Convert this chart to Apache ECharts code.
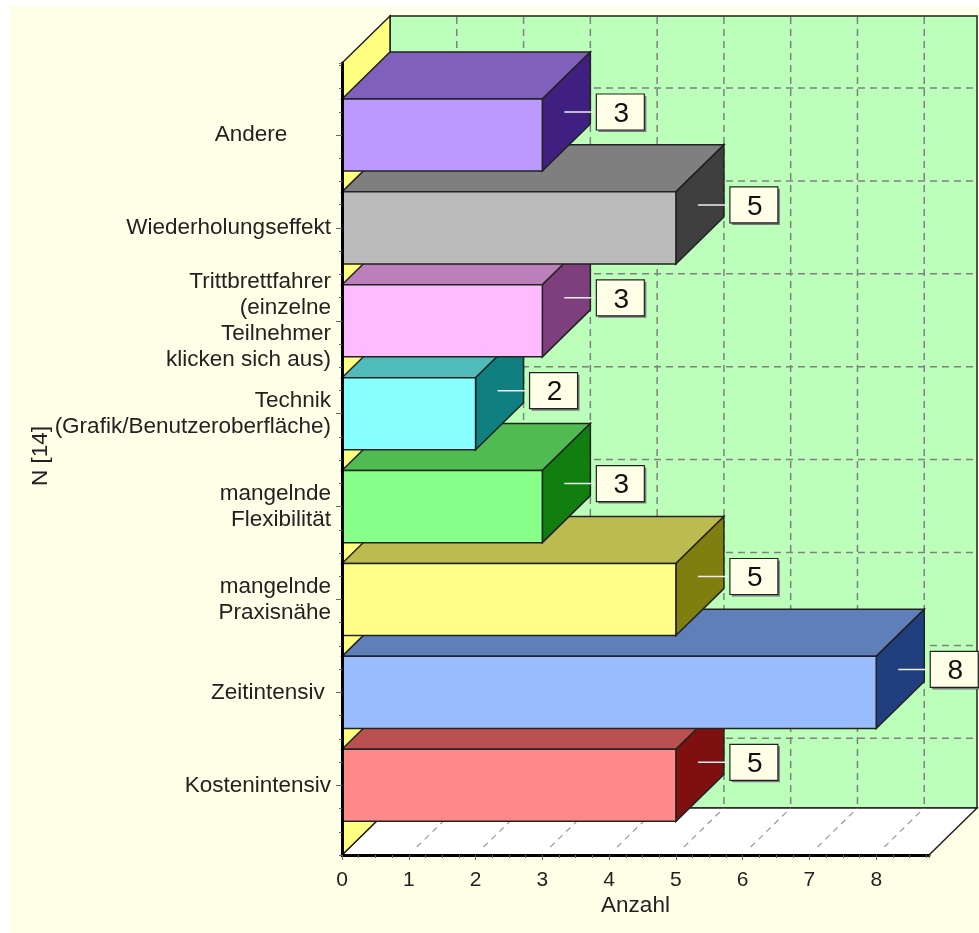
<!DOCTYPE html>
<html>
<head>
<meta charset="utf-8">
<style>html,body{margin:0;padding:0;background:#fff}#chart{width:979px;height:933px}</style>
<script src="https://cdn.jsdelivr.net/npm/echarts@6/dist/echarts.min.js"></script>
</head>
<body>
<div id="chart"></div>
<script>
// Bars run bottom to top, so each later bar overlaps the top face of the one below it.
const categories = [
  'Kostenintensiv',
  'Zeitintensiv\u00a0',
  'mangelnde\nPraxisnähe',
  'mangelnde\nFlexibilität',
  'Technik\n(Grafik/Benutzeroberfläche)',
  'Trittbrettfahrer\n(einzelne\nTeilnehmer\nklicken sich aus)',
  'Wiederholungseffekt',
  'Andere\u00a0\u00a0\u00a0\u00a0\u00a0\u00a0\u00a0'
];
const counts = [5, 8, 5, 3, 2, 3, 5, 3];
const xTicks = [0, 1, 2, 3, 4, 5, 6, 7, 8];

const frontColors = ['#FF8888', '#99BBFF', '#FFFF88', '#88FF88', '#88FFFF', '#FFBBFF', '#BBBBBB', '#BB99FF'];
const topColors   = ['#BB5050', '#5F7FBB', '#BBBB50', '#50BB50', '#50BBBB', '#BB7FBB', '#7F7F7F', '#7F60BB'];
const sideColors  = ['#7F1010', '#1F3F7F', '#7F7F10', '#107F10', '#107F7F', '#7F3F7F', '#3F3F3F', '#3F1F7F'];

// Extrusion of the 3D box, in pixels.
const DX = 48, DY = -47;
const BAR_SHARE = 0.776;
const EDGE = '#222';
const FONT = '"Liberation Sans", Arial, sans-serif';
const X_MAX = 8.79, Y_MIN = 0.25, Y_MAX = 8.775;

function poly(points, fill, extra) {
  return Object.assign({
    type: 'polygon',
    shape: { points: points },
    style: { fill: fill, stroke: EDGE, lineWidth: 1.5, lineJoin: 'miter' }
  }, extra || {});
}
function dashed(x1, y1, x2, y2, dash, color, width) {
  return {
    type: 'line',
    shape: { x1: x1, y1: y1, x2: x2, y2: y2 },
    style: { stroke: color || '#808080', lineWidth: width || 1.5, lineDash: dash }
  };
}

// Back wall, side wall, floor and their dashed grid.
function renderRoom(params, api) {
  const o = api.coord([0, Y_MIN]);
  const tl = api.coord([0, Y_MAX]);
  const br = api.coord([X_MAX, Y_MIN]);
  const kids = [
    poly([[o[0] + DX, tl[1] + DY], [br[0] + DX, tl[1] + DY], [br[0] + DX, o[1] + DY], [o[0] + DX, o[1] + DY]], '#BBFFBB'),
    poly([[o[0], o[1]], [br[0], br[1]], [br[0] + DX, br[1] + DY], [o[0] + DX, o[1] + DY]], '#FFFFFF'),
    poly([[o[0], tl[1]], [o[0] + DX, tl[1] + DY], [o[0] + DX, o[1] + DY], [o[0], o[1]]], '#FFFF80')
  ];
  xTicks.slice(1).forEach(function (t) {
    const p = api.coord([t, Y_MIN]);
    kids.push(dashed(p[0] + DX, tl[1] + DY + 1, p[0] + DX, o[1] + DY, [7, 5]));
    kids.push(dashed(p[0] + 8, p[1] - 8, p[0] + DX, p[1] + DY, [6, 5], '#999', 1.2));
  });
  categories.forEach(function (c, i) {
    const p = api.coord([0, i + 1]);
    kids.push(dashed(p[0] + DX, p[1] + DY, br[0] + DX, p[1] + DY, [7, 5]));
  });
  return { type: 'group', children: kids };
}

// One extruded bar with its leader line and value box.
function renderBar(params, api) {
  const value = api.value(0);
  const i = params.dataIndex;
  const base = api.coord([0, api.value(1)]);
  const end = api.coord([value, api.value(1)]);
  const h = api.size([0, 1])[1] * BAR_SHARE;
  const t = end[1] - h / 2, b = end[1] + h / 2;
  const x0 = base[0], x1 = end[0];
  const lineY = end[1] - 23;
  const boxX = x1 + 54;
  return {
    type: 'group',
    children: [
      poly([[x0, t], [x0 + DX, t + DY], [x1 + DX, t + DY], [x1, t]], topColors[i]),
      poly([[x1, t], [x1 + DX, t + DY], [x1 + DX, b + DY], [x1, b]], sideColors[i]),
      poly([[x0, t], [x1, t], [x1, b], [x0, b]], frontColors[i]),
      { type: 'line', shape: { x1: x1 + 22, y1: lineY, x2: boxX, y2: lineY },
        style: { stroke: '#EEEEEE', lineWidth: 1.5 } },
      { type: 'rect', shape: { x: boxX + 2, y: lineY - 16, width: 48, height: 36 },
        style: { fill: '#7A7A7A' } },
      { type: 'rect', shape: { x: boxX, y: lineY - 18, width: 48, height: 36 },
        style: { fill: '#FFFFE8', stroke: EDGE, lineWidth: 1.2 } },
      { type: 'text', style: { text: String(value), x: boxX + 25, y: lineY + 2,
        align: 'center', verticalAlign: 'middle', fill: '#111',
        font: '28px ' + FONT } }
    ]
  };
}

const axisFont = { color: '#222', fontFamily: FONT, fontSize: 22.5 };
const tickValues = categories.map(function (c, i) { return i + 1; });
const chart = echarts.init(document.getElementById('chart'), null, { renderer: 'canvas' });
chart.setOption({
  animation: false,
  backgroundColor: '#FFFFFF',
  graphic: [{
    type: 'rect', z: -10, silent: true,
    shape: { x: 10, y: 6, width: 969, height: 927 },
    style: { fill: '#FFFFE8' }
  }],
  grid: { left: 342, top: 63, width: 587, height: 792 },
  xAxis: [{
    type: 'value', min: 0, max: X_MAX, interval: 1, z: 10,
    name: 'Anzahl', nameLocation: 'middle', nameGap: 39, nameMoveOverlap: false,
    nameTextStyle: axisFont,
    axisLine: { onZero: false, lineStyle: { color: '#000', width: 3 } },
    axisTick: { show: true, customValues: xTicks, length: 5, lineStyle: { color: '#666', width: 1 } },
    axisLabel: { show: true, customValues: xTicks, margin: 15, ...axisFont, fontSize: 21 },
    splitLine: { show: false }
  }, {
    type: 'value', position: 'bottom', min: 0, max: X_MAX, interval: 0.25, z: 10,
    axisLine: { show: false, onZero: false },
    axisTick: { show: true, length: 3, lineStyle: { color: '#666', width: 1 } },
    axisLabel: { show: false },
    splitLine: { show: false }
  }],
  yAxis: [{
    type: 'value', min: Y_MIN, max: Y_MAX, interval: 0.25, z: 10,
    name: 'N [14]', nameLocation: 'middle', nameGap: 290, nameRotate: 90, nameMoveOverlap: false,
    nameTextStyle: { ...axisFont, padding: [0, 0, 0, 6] },
    axisLine: { onZero: false, lineStyle: { color: '#000', width: 3 } },
    axisTick: { show: true, customValues: tickValues, length: 6, lineStyle: { color: '#666', width: 1 } },
    axisLabel: {
      show: true,
      customValues: tickValues,
      formatter: function (v) { return categories[Math.round(v) - 1]; },
      margin: 11, align: 'right', lineHeight: 26, ...axisFont
    },
    splitLine: { show: false }
  }, {
    type: 'value', position: 'left', min: Y_MIN, max: Y_MAX, interval: 0.25, z: 10,
    axisLine: { show: false, onZero: false },
    axisTick: { show: true, length: 3, lineStyle: { color: '#666', width: 1 } },
    axisLabel: { show: false },
    splitLine: { show: false }
  }],
  series: [{
    type: 'custom', z: 1, silent: true,
    clip: false,
    renderItem: renderRoom,
    data: [[0, Y_MIN]]
  }, {
    type: 'custom', z: 2, silent: true,
    clip: false,
    renderItem: renderBar,
    encode: { x: 0, y: 1 },
    data: counts.map(function (v, i) { return [v, i + 1]; })
  }]
});
</script>
</body>
</html>
